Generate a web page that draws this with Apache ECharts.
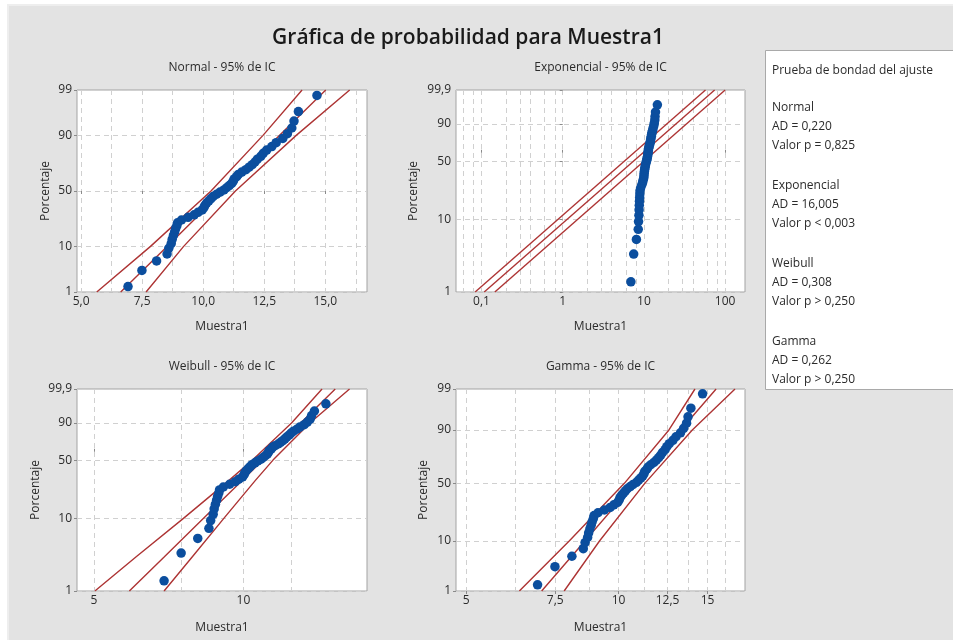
<!DOCTYPE html>
<html>
<head>
<meta charset="utf-8">
<script src="https://cdn.jsdelivr.net/npm/echarts@6/dist/echarts.min.js"></script>
<style>
html, body { margin: 0; padding: 0; background: #ffffff; }
#chart { width: 953px; height: 640px; }
</style>
</head>
<body>
<div id="chart"></div>
<script>
// Muestra1, sorted (n = 50)
const muestra1 = [6.92, 7.49, 8.09, 8.52, 8.59, 8.69, 8.73, 8.78, 8.83, 8.87,
  8.92, 8.95, 9.11, 9.38, 9.63, 9.79, 9.96, 10.03, 10.07, 10.14,
  10.23, 10.32, 10.41, 10.55, 10.69, 10.85, 10.96, 11.07, 11.17, 11.23,
  11.27, 11.37, 11.44, 11.58, 11.75, 11.88, 12.01, 12.12, 12.22, 12.36,
  12.46, 12.60, 12.81, 12.99, 13.26, 13.45, 13.63, 13.72, 13.90, 14.66];

// Percent ticks of the probability scales
const pctTicks99 = [1, 10, 50, 90, 99];
const pctTicks999 = [1, 10, 50, 90, 99.9];
const pctText99 = ['1', '10', '50', '90', '99'];
const pctText999 = ['1', '10', '50', '90', '99,9'];

// Fitted distributions with 95% confidence bands (Muestra1 value at each percent)
const normalPct = [1, 10, 50, 90, 99];
const normalFit = [6.62, 8.51, 10.82, 13.13, 15.02];
const normalCiLo = [5.64, 7.83, 10.32, 12.45, 14.05];
const normalCiHi = [7.66, 9.19, 11.32, 13.81, 16.00];

const expoPct = [1, 99.9];
const expoFit = [0.108, 74.4];
const expoCiLo = [0.0835, 57.4];
const expoCiHi = [0.146, 100.2];

const weibPct = [1, 3, 10, 30, 50, 90, 99.9];
const weibFit = [5.89, 6.93, 8.31, 9.93, 10.94, 13.04, 15.31];
const weibCiLo = [5.02, 6.08, 7.57, 9.34, 10.43, 12.50, 14.40];
const weibCiHi = [6.92, 7.89, 9.13, 10.56, 11.47, 13.61, 16.36];

const gammaPct = [1, 10, 50, 90, 99];
const gammaFit = [7.05, 8.59, 10.76, 13.27, 15.59];
const gammaCiLo = [6.37, 8.00, 10.27, 12.58, 14.16];
const gammaCiHi = [7.81, 9.18, 11.27, 13.99, 16.99];
const gammaShape = 35;

// X axis gridlines and labels
const normalXGrid = [5, 6.25, 7.5, 8.75, 10, 11.25, 12.5, 13.75, 15, 16.25];
const normalXTicks = [5, 7.5, 10, 12.5, 15];
const normalXText = ['5,0', '7,5', '10,0', '12,5', '15,0'];
const expoXGrid = [0.06, 0.08, 0.1, 0.2, 0.3, 0.4, 0.6, 0.8, 1, 2, 3, 4, 6, 8, 10, 20, 30, 40, 60, 80, 100];
const expoXTicks = [0.1, 1, 10, 100];
const expoXText = ['0,1', '1', '10', '100'];
const weibXGrid = [5, 7.5, 10, 12.5];
const weibXTicks = [5, 10];
const weibXText = ['5', '10'];
const gammaXGrid = [5, 6.25, 7.5, 8.75, 10, 11.25, 12.5, 13.75, 15, 16.25];
const gammaXTicks = [5, 7.5, 10, 12.5, 15];
const gammaXText = ['5', '7,5', '10', '12,5', '15'];

// Goodness-of-fit summary
const gofTitle = 'Prueba de bondad del ajuste';
const gofDists = ['Normal', 'Exponencial', 'Weibull', 'Gamma'];
const gofAD = ['0,220', '16,005', '0,308', '0,262'];
const gofP = ['= 0,825', '< 0,003', '> 0,250', '> 0,250'];

const mainTitle = 'Gráfica de probabilidad para Muestra1';

// ---- scale transforms ----
function normInv(p) {
  const a = [-3.969683028665376e+01, 2.209460984245205e+02, -2.759285104469687e+02, 1.383577518672690e+02, -3.066479806614716e+01, 2.506628277459239e+00];
  const b = [-5.447609879822406e+01, 1.615858368580409e+02, -1.556989798598866e+02, 6.680131188771972e+01, -1.328068155288572e+01];
  const c = [-7.784894002430293e-03, -3.223964580411365e-01, -2.400758277161838e+00, -2.549732539343734e+00, 4.374664141464968e+00, 2.938163982698783e+00];
  const d = [7.784695709041462e-03, 3.224671290700398e-01, 2.445134137142996e+00, 3.754408661907416e+00];
  const pl = 0.02425;
  let q, r;
  if (p < pl) {
    q = Math.sqrt(-2 * Math.log(p));
    return (((((c[0]*q+c[1])*q+c[2])*q+c[3])*q+c[4])*q+c[5]) / ((((d[0]*q+d[1])*q+d[2])*q+d[3])*q+1);
  }
  if (p > 1 - pl) {
    q = Math.sqrt(-2 * Math.log(1 - p));
    return -(((((c[0]*q+c[1])*q+c[2])*q+c[3])*q+c[4])*q+c[5]) / ((((d[0]*q+d[1])*q+d[2])*q+d[3])*q+1);
  }
  q = p - 0.5; r = q * q;
  return (((((a[0]*r+a[1])*r+a[2])*r+a[3])*r+a[4])*r+a[5])*q / (((((b[0]*r+b[1])*r+b[2])*r+b[3])*r+b[4])*r+1);
}
const lin = v => v;
const lg = v => Math.log10(v);
const weibY = p => Math.log(-Math.log(1 - p));
function gammaY(p) {
  // Wilson-Hilferty quantile of the standard gamma, on a log scale
  const a = gammaShape, z = normInv(p);
  const c = 1 - 1 / (9 * a) + z / (3 * Math.sqrt(a));
  return Math.log10(a * c * c * c);
}

// median-rank plotting positions
const n = muestra1.length;
const ranks = muestra1.map((v, i) => (i + 1 - 0.3) / (n + 0.4));

const panels = [
  { title: 'Normal - 95% de IC', left: 77, top: 90, width: 290, fx: lin, fy: normInv,
    xMin: 4.83, xMax: 16.71, xGrid: normalXGrid, xTicks: normalXTicks, xText: normalXText,
    yTicks: pctTicks99, yText: pctText99, yGap: 25, xGap: 29,
    pct: normalPct, fit: normalFit, lo: normalCiLo, hi: normalCiHi },
  { title: 'Exponencial - 95% de IC', left: 456, top: 90, width: 289, fx: lg, fy: weibY,
    xMin: 0.0485, xMax: 176, xGrid: expoXGrid, xTicks: expoXTicks, xText: expoXText,
    yTicks: pctTicks999, yText: pctText999, yGap: 36, xGap: 29,
    pct: expoPct, fit: expoFit, lo: expoCiLo, hi: expoCiHi },
  { title: 'Weibull - 95% de IC', left: 77, top: 389, width: 290, fx: lg, fy: weibY,
    xMin: 4.62, xMax: 17.74, xGrid: weibXGrid, xTicks: weibXTicks, xText: weibXText,
    yTicks: pctTicks999, yText: pctText999, yGap: 35, xGap: 31,
    pct: weibPct, fit: weibFit, lo: weibCiLo, hi: weibCiHi },
  { title: 'Gamma - 95% de IC', left: 456, top: 389, width: 289, fx: lg, fy: gammaY,
    xMin: 4.775, xMax: 17.78, xGrid: gammaXGrid, xTicks: gammaXTicks, xText: gammaXText,
    yTicks: pctTicks99, yText: pctText99, yGap: 26, xGap: 31,
    pct: gammaPct, fit: gammaFit, lo: gammaCiLo, hi: gammaCiHi }
];

const FONT = '"Open Sans", "Noto Sans", sans-serif';
const TXT = '#2b2b2b';
const LINE_RED = '#ad3434';
const DOT_BLUE = '#0b4e9e';
const GRID_DASH = '#d0d0d0';

function lookup(vals, texts) {
  return function (v) {
    for (let i = 0; i < vals.length; i++) {
      if (Math.abs(vals[i] - v) < 1e-6 * Math.max(1, Math.abs(v))) return texts[i];
    }
    return '';
  };
}

const grids = [], xAxes = [], yAxes = [], series = [], graphics = [];

// page backdrop and goodness-of-fit box
graphics.push({ type: 'rect', z: -20, shape: { x: 8, y: 5, width: 960, height: 650 },
  style: { fill: '#e3e3e3', stroke: '#eeeeee', lineWidth: 2 } });
graphics.push({ type: 'rect', z: -10, shape: { x: 765.5, y: 50.5, width: 200, height: 339 },
  style: { fill: '#ffffff', stroke: '#a9a9a9', lineWidth: 1 } });
graphics.push({ type: 'text', z: 10, x: 468, y: 38,
  style: { text: mainTitle, fill: '#1a1a1a', font: '600 21px ' + FONT, textAlign: 'center', textVerticalAlign: 'middle' } });

const gofLines = [{ t: gofTitle, y: 71 }];
gofDists.forEach((d, i) => {
  const y0 = 107.5 + i * 78;
  gofLines.push({ t: d, y: y0 });
  gofLines.push({ t: 'AD = ' + gofAD[i], y: y0 + 19 });
  gofLines.push({ t: 'Valor p ' + gofP[i], y: y0 + 38.5 });
});
gofLines.forEach(l => graphics.push({ type: 'text', z: 10, x: 772, y: l.y,
  style: { text: l.t, fill: TXT, font: '12px ' + FONT, textAlign: 'left', textVerticalAlign: 'middle' } }));

panels.forEach((pn, k) => {
  const height = 202;
  grids.push({ left: pn.left, top: pn.top, width: pn.width, height: height, show: true,
    backgroundColor: '#ffffff', borderColor: '#a3a3a3', borderWidth: 1, outerBoundsMode: 'none' });

  graphics.push({ type: 'text', z: 10, x: pn.left + pn.width / 2, y: pn.top - 22,
    style: { text: pn.title, fill: TXT, font: '12px ' + FONT, textAlign: 'center', textVerticalAlign: 'middle' } });

  const xMin = pn.fx(pn.xMin), xMax = pn.fx(pn.xMax);
  const yMin = pn.fy(pn.yTicks[0] / 100), yMax = pn.fy(pn.yTicks[pn.yTicks.length - 1] / 100);
  const xTickVals = pn.xTicks.map(pn.fx);
  const yTickVals = pn.yTicks.map(p => pn.fy(p / 100));

  // labelled axes
  xAxes.push({ type: 'value', gridIndex: k, min: xMin, max: xMax, position: 'bottom',
    name: 'Muestra1', nameLocation: 'middle', nameGap: pn.xGap,
    nameTextStyle: { color: TXT, fontSize: 12, fontFamily: FONT },
    axisLine: { show: false }, splitLine: { show: false },
    axisTick: { show: true, length: 3, customValues: xTickVals, lineStyle: { color: '#8a8a8a' } },
    axisLabel: { customValues: xTickVals, formatter: lookup(xTickVals, pn.xText), margin: 4,
      color: TXT, fontSize: 12, fontFamily: FONT } });
  yAxes.push({ type: 'value', gridIndex: k, min: yMin, max: yMax, position: 'left',
    name: 'Porcentaje', nameLocation: 'middle', nameGap: pn.yGap,
    nameTextStyle: { color: TXT, fontSize: 12, fontFamily: FONT },
    axisLine: { show: false }, splitLine: { show: false },
    axisTick: { show: true, length: 3, customValues: yTickVals, lineStyle: { color: '#8a8a8a' } },
    axisLabel: { customValues: yTickVals, formatter: lookup(yTickVals, pn.yText), margin: 5,
      color: TXT, fontSize: 12, fontFamily: FONT } });

  // dashed reference grid
  xAxes.push({ type: 'value', gridIndex: k, min: xMin, max: xMax, position: 'bottom',
    axisLine: { show: false }, axisLabel: { show: false },
    axisTick: { show: false, customValues: pn.xGrid.map(pn.fx) },
    splitLine: { show: true, lineStyle: { color: GRID_DASH, type: [5, 4], width: 1 } } });
  yAxes.push({ type: 'value', gridIndex: k, min: yMin, max: yMax, position: 'left',
    axisLine: { show: false }, axisLabel: { show: false },
    axisTick: { show: false, customValues: yTickVals },
    splitLine: { show: true, lineStyle: { color: GRID_DASH, type: [5, 4], width: 1 } } });

  const ax = { xAxisIndex: 2 * k, yAxisIndex: 2 * k };
  [pn.lo, pn.fit, pn.hi].forEach(arr => {
    series.push(Object.assign({ type: 'line', showSymbol: false, symbol: 'none', clip: true, z: 3,
      lineStyle: { color: LINE_RED, width: 1.4 },
      data: arr.map((x, i) => [pn.fx(x), pn.fy(pn.pct[i] / 100)]) }, ax));
  });
  series.push(Object.assign({ type: 'scatter', symbol: 'circle', symbolSize: 9.5, z: 4,
    itemStyle: { color: DOT_BLUE, opacity: 1 },
    data: muestra1.map((x, i) => [pn.fx(x), pn.fy(ranks[i])]) }, ax));
});

const chart = echarts.init(document.getElementById('chart'), null, { renderer: 'canvas' });
chart.setOption({
  animation: false,
  backgroundColor: '#ffffff',
  textStyle: { fontFamily: FONT },
  grid: grids,
  xAxis: xAxes,
  yAxis: yAxes,
  series: series,
  graphic: { elements: graphics }
});
</script>
</body>
</html>
